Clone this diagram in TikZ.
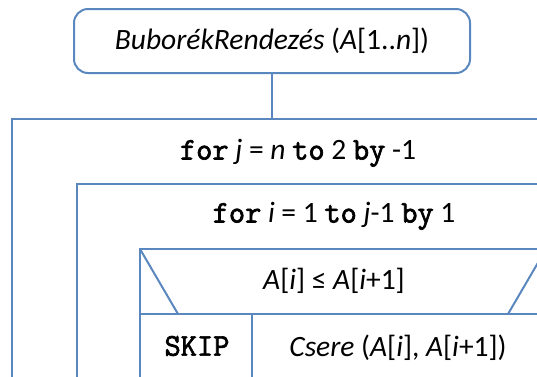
\documentclass[tikz,border=0pt]{standalone}
\usepackage{fontspec}
\setmainfont{Carlito}
\setmonofont{Latin Modern Mono}[AutoFakeBold=2.2]
\definecolor{nsline}{RGB}{90,135,190}
\newcommand{\kwd}[1]{{\fontsize{31.5}{33}\ttfamily\bfseries #1}}
\begin{document}
\begin{tikzpicture}[x=1pt,y=-1pt,
  nsl/.style={draw=nsline,line width=2pt},
  txt/.style={inner sep=0pt,font=\fontsize{29.5}{32}\selectfont},
  headbox/.style={nsl,rounded corners=14pt,minimum width=396pt,minimum height=64pt,inner sep=0pt,font=\fontsize{29.5}{32}\selectfont}]
\useasboundingbox (0,0) rectangle (537,376);
\clip (0,0) rectangle (537,376);
\node[headbox] (head) at (272,41) {\textit{BuborékRendezés} (\textit{A}[1..\textit{n}])};
\coordinate (c1) at (272,119);
\draw[nsl] (head.south) -- (c1);
% outer loop frame
\draw[nsl] (12,119) rectangle (620,440);
\node[txt] (loopj) at (298,153) {\kwd{for} \textit{j} = \textit{n} \kwd{to} 2 \kwd{by} -1};
% inner loop frame
\draw[nsl] (77,184) rectangle (620,440);
\node[txt] (loopi) at (334,216) {\kwd{for} \textit{i} = 1 \kwd{to} \textit{j}-1 \kwd{by} 1};
% if block
\draw[nsl] (140,249) rectangle (620,440);
\draw[nsl] (140,314) -- (620,314);
\draw[nsl] (140,249) -- (178,314);
\draw[nsl] (508,314) -- (546,249);
\draw[nsl] (252,314) -- (252,440);
\node[txt] (cond) at (334,281) {\textit{A}[\textit{i}] ≤ \textit{A}[\textit{i}+1]};
\node[txt] (skip) at (197,346) {\kwd{SKIP}};
\node[txt] (swap) at (398,348) {\textit{Csere} (\textit{A}[\textit{i}], \textit{A}[\textit{i}+1])};
\end{tikzpicture}
\end{document}
